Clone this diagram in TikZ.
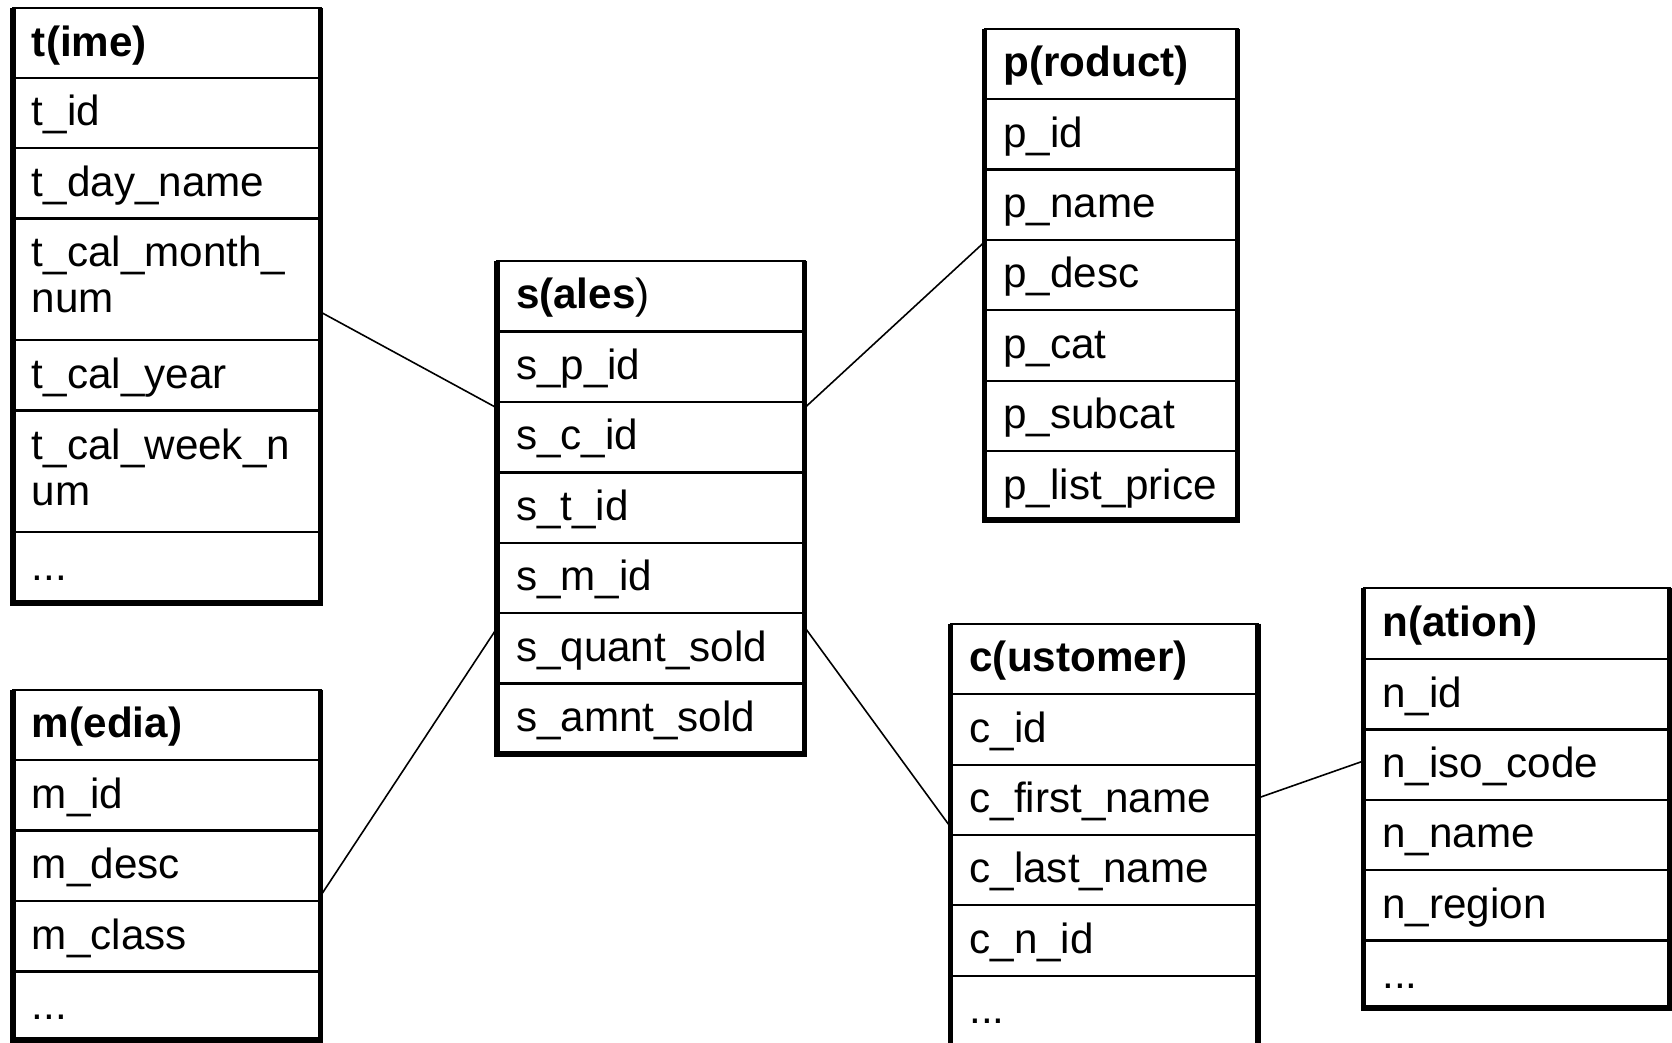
\documentclass[tikz,border=0pt]{standalone}
\usepackage{fontspec}
\setmainfont{Liberation Sans}
\usetikzlibrary{calc}
\tikzset{
  tbl/.style={draw=black, line width=1pt, inner sep=0pt, outer sep=0pt, anchor=north west, rectangle},
  sidebar/.style={line width=2.6pt, line join=miter},
  bottombar/.style={line width=3pt},
  sep/.style={line width=1.1pt},
  txt/.style={anchor=base west, inner sep=0pt, outer sep=0pt, align=left, font=\fontsize{21.1pt}{23pt}\selectfont},
  link/.style={line width=0.8pt}
}
\newcommand{\tablebox}[6]{% name, x, y, w(px), h(px), list of separator offsets
  \node[tbl, minimum width=#4*0.5pt, minimum height=#5*0.5pt] (#1) at (#2,#3) {};
  \foreach \oy in {#6} {\draw[sep] ($(#1.north west)+(0,\oy)$) -- ($(#1.north east)+(0,\oy)$);}
  \draw[sidebar] (#1.north west) -- (#1.south west);
  \draw[sidebar] (#1.north east) -- (#1.south east);
  \draw[bottombar] ([xshift=-1.3pt]#1.south west) -- ([xshift=1.3pt]#1.south east);
}
\begin{document}
\begin{tikzpicture}[x=0.5pt, y=-0.5pt]
\useasboundingbox (0,0) rectangle (1672,1043);
\clip (0,0) rectangle (1672,1043);

% time
\tablebox{time}{13}{8.5}{307.5}{594}{69.5,139.7,210.1,331.7,402,523.6}
\node[txt] (t0) at (32,56.5) {\textbf{t(ime)}};
\node[txt] (t1) at (32,126) {t\_id};
\node[txt] (t2) at (32,196.2) {t\_day\_name};
\node[txt] (t3) at (32,313) {t\_cal\_month\_\\num};
\node[txt] (t4) at (32,388.2) {t\_cal\_year};
\node[txt] (t5) at (32,505) {t\_cal\_week\_n\\um};
\node[txt] (t6) at (32,580.1) {...};

% media
\tablebox{media}{13}{689.5}{307.5}{350.5}{70.5,141,211.5,281.9}
\node[txt] (m0) at (32,737.5) {\textbf{m(edia)}};
\node[txt] (m1) at (32,808) {m\_id};
\node[txt] (m2) at (32,878.5) {m\_desc};
\node[txt] (m3) at (32,949) {m\_class};
\node[txt] (m4) at (32,1019.4) {...};

% sales
\tablebox{sales}{497}{261}{307.5}{492.5}{70.6,141,211.4,281.8,352.1,422.5}
\node[txt] (s0) at (516,309) {\textbf{s(ales})};
\node[txt] (s1) at (516,379.6) {s\_p\_id};
\node[txt] (s2) at (516,450) {s\_c\_id};
\node[txt] (s3) at (516,520.4) {s\_t\_id};
\node[txt] (s4) at (516,590.8) {s\_m\_id};
\node[txt] (s5) at (516,661.1) {s\_quant\_sold};
\node[txt] (s6) at (516,731.5) {s\_amnt\_sold};

% product
\tablebox{product}{984.5}{28.8}{253}{491.6}{70.4,140.7,211.2,281.5,351.9,422.3}
\node[txt] (p0) at (1003.5,76.8) {\textbf{p(roduct)}};
\node[txt] (p1) at (1003.5,147.2) {p\_id};
\node[txt] (p2) at (1003.5,217.5) {p\_name};
\node[txt] (p3) at (1003.5,288) {p\_desc};
\node[txt] (p4) at (1003.5,358.3) {p\_cat};
\node[txt] (p5) at (1003.5,428.7) {p\_subcat};
\node[txt] (p6) at (1003.5,499.1) {p\_list\_price};

% customer
\tablebox{customer}{950.5}{623.5}{307.5}{422}{70.5,141.1,211.4,281.8,352.2}
\node[txt] (c0) at (969.5,671.5) {\textbf{c(ustomer)}};
\node[txt] (c1) at (969.5,742) {c\_id};
\node[txt] (c2) at (969.5,812.6) {c\_first\_name};
\node[txt] (c3) at (969.5,882.9) {c\_last\_name};
\node[txt] (c4) at (969.5,953.3) {c\_n\_id};
\node[txt] (c5) at (969.5,1023.7) {...};

% nation
\tablebox{nation}{1363.5}{588.3}{306}{419.4}{70.7,141.1,211.4,281.8,352.2}
\node[txt] (n0) at (1382.5,636.3) {\textbf{n(ation)}};
\node[txt] (n1) at (1382.5,707) {n\_id};
\node[txt] (n2) at (1382.5,777.4) {n\_iso\_code};
\node[txt] (n3) at (1382.5,847.7) {n\_name};
\node[txt] (n4) at (1382.5,918.1) {n\_region};
\node[txt] (n5) at (1382.5,988.5) {...};

% connectors
\draw[link] ($(time.north east)+(0,303.5)$) -- ($(sales.north west)+(0,147)$);
\draw[link] ($(media.north east)+(0,206.5)$) -- ($(sales.north west)+(0,367)$);
\draw[link] ($(sales.north east)+(0,147)$) -- ($(product.north west)+(0,213.2)$);
\draw[link] ($(sales.north east)+(0,366)$) -- ($(customer.north west)+(0,203.5)$);
\draw[link] ($(customer.north east)+(0,174.5)$) -- ($(nation.north west)+(0,172.7)$);
\end{tikzpicture}
\end{document}
